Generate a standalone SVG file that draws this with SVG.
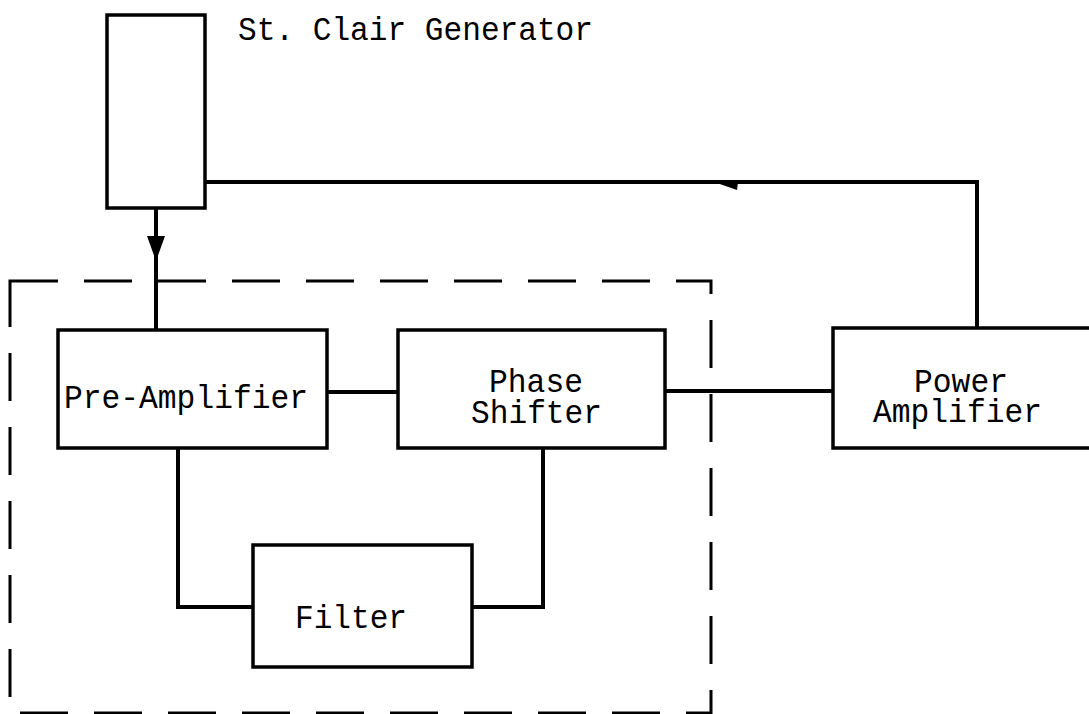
<svg xmlns="http://www.w3.org/2000/svg" width="1089" height="714" viewBox="0 0 1089 714">
<style>
.box{fill:#fff;stroke:#000;stroke-width:3.5}
.wire{fill:none;stroke:#000;stroke-width:4;stroke-linejoin:miter}
.dash{fill:none;stroke:#000;stroke-width:3;stroke-dasharray:48 26}
.t{font-family:"Liberation Mono","DejaVu Sans Mono",monospace;font-size:34px;fill:#000}
</style>
<rect width="1089" height="714" fill="#fff"/>
<g id="boundary">
<path class="dash" d="M10,281 H711 V713 H10 Z"/>
</g>
<g id="connectors">
<path class="wire" d="M205,182 H977 V328"/>
<polygon points="714,182 738,182 737,190" fill="#000"/>
<path class="wire" d="M156,208 V330"/>
<polygon points="147,236 165,236 156,261" fill="#000"/>
<path class="wire" d="M327,392 H398"/>
<path class="wire" d="M665,391 H833"/>
<path class="wire" d="M178,448 V607 H253"/>
<path class="wire" d="M543,448 V607 H472"/>
</g>
<g id="generator">
<rect class="box" x="107" y="15" width="98" height="193"/>
<text class="t" x="238" y="40" textLength="355" lengthAdjust="spacingAndGlyphs">St. Clair Generator</text>
</g>
<g id="preamp">
<rect class="box" x="58" y="330" width="269" height="118"/>
<text class="t" x="64" y="408" textLength="244" lengthAdjust="spacingAndGlyphs">Pre-Amplifier</text>
</g>
<g id="phase">
<rect class="box" x="398" y="330" width="267" height="118"/>
<text class="t" x="489" y="392" textLength="94" lengthAdjust="spacingAndGlyphs">Phase</text>
<text class="t" x="471" y="423" textLength="131" lengthAdjust="spacingAndGlyphs">Shifter</text>
</g>
<g id="power">
<rect class="box" x="833" y="328" width="270" height="120"/>
<text class="t" x="914" y="392" textLength="94" lengthAdjust="spacingAndGlyphs">Power</text>
<text class="t" x="873" y="422" textLength="169" lengthAdjust="spacingAndGlyphs">Amplifier</text>
</g>
<g id="filter">
<rect class="box" x="253" y="545" width="219" height="122"/>
<text class="t" x="295" y="628" textLength="112" lengthAdjust="spacingAndGlyphs">Filter</text>
</g>
</svg>
